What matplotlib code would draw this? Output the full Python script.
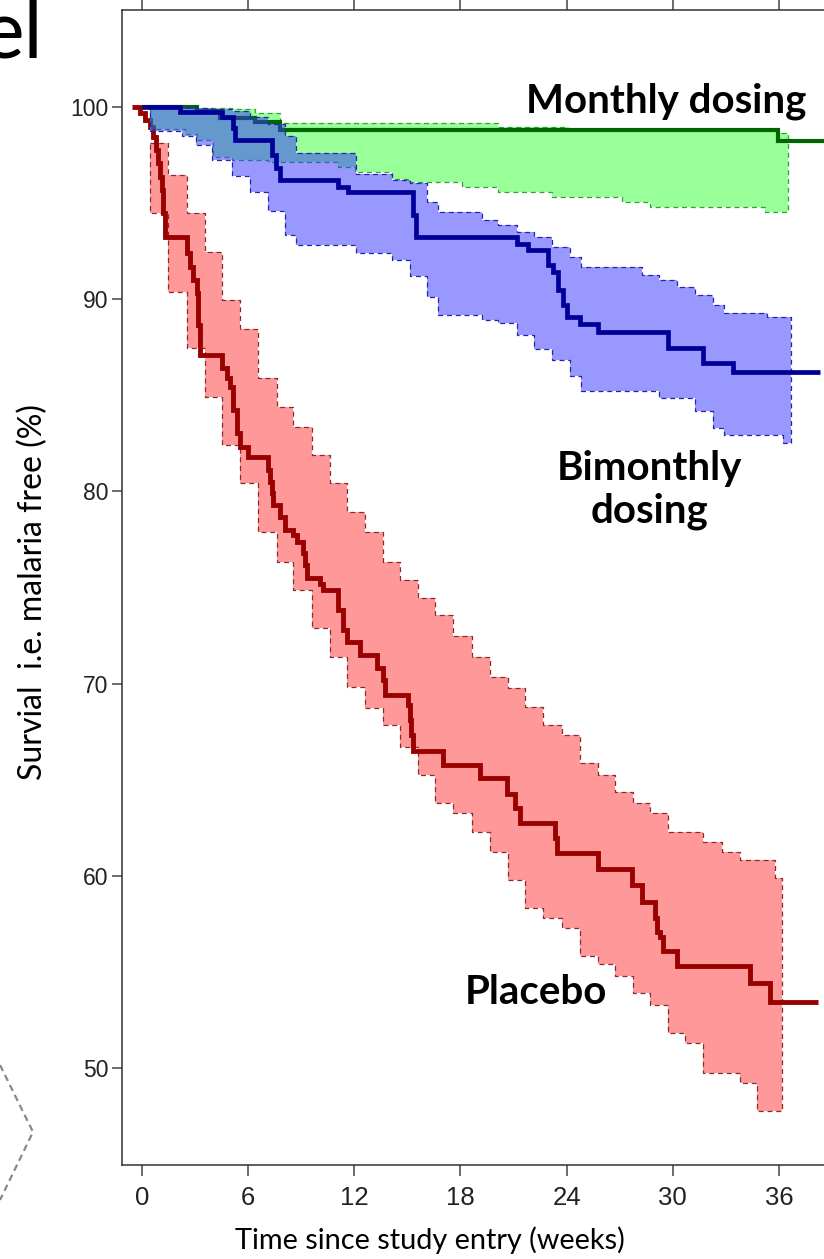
import matplotlib
matplotlib.use('Agg')
import matplotlib.pyplot as plt
from matplotlib import font_manager
from matplotlib.lines import Line2D

# ---------------- data ----------------
xticks = [0, 6, 12, 18, 24, 30, 36]
yticks = [50, 60, 70, 80, 90, 100]

# Placebo Kaplan-Meier curve
placebo_t = [-0.57, -0.11, 0.17, 0.45, 0.64, 0.79, 0.92, 1.02, 1.11, 1.20, 1.30, 2.53, 2.71, 2.90,
             3.09, 3.19, 3.28, 4.51, 4.79, 4.97, 5.16, 5.35, 5.54, 6.01, 7.14, 7.24, 7.33, 7.42,
             7.80, 8.08, 8.55, 8.75, 9.12, 9.21, 9.31, 10.06, 10.25, 11.10, 11.38, 11.57, 12.32,
             13.27, 13.62, 13.74, 15.05, 15.15, 15.23, 15.32, 17.03, 19.11, 20.62, 21.09, 21.37,
             23.35, 23.44, 25.79, 27.68, 28.25, 29.00, 29.11, 29.28, 29.45, 30.23, 34.37, 35.50]
placebo_s = [100.0, 99.67, 99.32, 98.98, 98.45, 97.76, 97.07, 96.36, 95.68, 94.47, 93.25, 92.39,
             91.69, 91.00, 90.31, 88.67, 87.10, 86.43, 85.88, 85.45, 84.24, 83.02, 82.33, 81.81,
             81.11, 80.49, 79.90, 79.29, 78.68, 77.99, 77.73, 77.38, 76.78, 76.17, 75.48, 75.18,
             74.87, 73.83, 72.79, 72.18, 71.49, 70.80, 70.19, 69.41, 68.89, 68.11, 67.33, 66.49,
             65.76, 65.07, 64.26, 63.51, 62.73, 61.95, 61.17, 60.34, 59.52, 58.65, 57.80, 57.08,
             56.82, 56.09, 55.31, 54.41, 53.45]
placebo_end = 38.23
placebo_ci_t = [0.45, 1.49, 2.53, 3.56, 4.51, 5.54, 6.57, 7.61, 8.55, 9.59, 10.63, 11.57, 12.61,
                13.64, 14.58, 15.62, 16.56, 17.60, 18.64, 19.67, 20.71, 21.65, 22.69, 23.73, 24.76,
                25.79, 26.74, 27.77, 28.71, 29.75, 30.69, 31.73, 32.77, 33.80, 34.75, 35.78]
placebo_ci_hi = [98.11, 96.46, 94.47, 92.47, 89.96, 88.45, 85.88, 84.41, 83.37, 81.89, 80.42,
                 78.94, 77.90, 76.34, 75.39, 74.45, 73.57, 72.48, 71.40, 70.36, 69.76, 68.80,
                 67.85, 67.33, 65.85, 65.24, 64.38, 63.77, 63.25, 62.29, 62.29, 61.77, 61.25,
                 60.82, 60.82, 59.87]
placebo_ci_lo = [94.47, 90.39, 87.45, 84.93, 82.41, 80.42, 77.90, 76.34, 74.87, 72.88, 71.40,
                 69.84, 68.71, 67.85, 66.72, 65.24, 63.77, 63.25, 62.29, 61.25, 59.78, 58.30,
                 57.78, 57.26, 55.84, 55.41, 54.80, 53.89, 53.28, 51.81, 51.29, 49.72, 49.72,
                 49.20, 47.76, 47.76]
placebo_ci_end = 36.16

# Bimonthly dosing
bimonthly_t = [0, 2.15, 4.52, 5.14, 5.26, 7.35, 7.57, 7.80, 11.08, 11.65, 15.32, 15.49, 21.20,
               21.82, 22.95, 23.23, 23.52, 23.80, 24.03, 24.76, 25.78, 29.73, 31.71, 33.41]
bimonthly_s = [100, 99.76, 99.50, 98.91, 98.28, 97.50, 96.83, 96.20, 95.85, 95.59, 94.38, 93.22,
               92.87, 92.56, 91.78, 91.42, 90.48, 89.70, 89.09, 88.71, 88.31, 87.44, 86.66, 86.23]
bimonthly_end = 38.33
bimonthly_ci_t = [0, 0.45, 2.26, 3.05, 3.96, 5.09, 6.10, 7.12, 8.08, 8.71, 12.10, 14.13, 15.15,
                  16.11, 16.73, 19.22, 20.12, 21.20, 22.16, 23.18, 24.19, 24.82, 28.26, 29.23,
                  30.24, 31.26, 32.28, 32.90, 35.33, 36.24]
bimonthly_ci_hi = [100, 100, 100, 99.95, 99.9, 99.8, 99.5, 99.1, 98.5, 97.6, 96.5, 96.20, 96.05,
                   95.07, 94.55, 94.12, 93.86, 93.51, 93.22, 92.73, 92.21, 91.69, 91.26, 91.00,
                   90.65, 90.22, 89.70, 89.27, 89.09, 89.09]
bimonthly_ci_lo = [100, 98.73, 98.47, 98.04, 97.26, 96.41, 95.59, 94.57, 93.34, 92.82, 92.43,
                   92.04, 91.21, 90.13, 89.18, 88.92, 88.75, 88.14, 87.40, 86.84, 85.98, 85.25,
                   85.25, 84.86, 84.86, 84.16, 83.30, 82.95, 82.95, 82.52]
bimonthly_ci_end = 36.69

# Monthly dosing
monthly_t = [0, 3.11, 4.41, 6.39, 7.80, 35.95]
monthly_s = [100, 99.8, 99.45, 99.22, 98.80, 98.25]
monthly_end = 39.5
monthly_ci_t = [0, 0.45, 2.43, 3.11, 4.01, 5.09, 6.39, 7.12, 7.80, 11.08, 12.04, 14.13, 15.04,
                18.09, 20.12, 23.18, 24.08, 27.13, 28.72, 35.22, 35.95]
monthly_ci_hi = [100, 100, 100, 99.95, 99.95, 99.9, 99.7, 99.7, 99.18, 99.18, 99.18, 99.18,
                 99.18, 99.18, 98.97, 98.97, 98.85, 98.85, 98.85, 98.85, 98.63]
monthly_ci_lo = [100, 98.85, 98.6, 98.3, 97.39, 97.22, 97.22, 97.14, 97.14, 96.88, 96.62, 96.28,
                 96.10, 95.84, 95.59, 95.33, 95.33, 95.07, 94.81, 94.55, 94.55]
monthly_ci_end = 36.52

# ---------------- fonts ----------------
names = {f.name for f in font_manager.fontManager.ttflist}
narrow = 'Liberation Sans Narrow' if 'Liberation Sans Narrow' in names else 'Liberation Sans'
plt.rcParams['font.family'] = ['Liberation Sans', 'DejaVu Sans']
CAL = ['Lato', 'DejaVu Sans']

W, H = 824, 1259
fig = plt.figure(figsize=(W / 100, H / 100), dpi=100)
XMIN, XMAX = -1.13, 39.6
pxw = 637.0 / 36.0
ax = fig.add_axes([122 / W, (H - 1165) / H, (XMAX - XMIN) * pxw / W, 1155 / H])
ax.set_xlim(XMIN, XMAX)
ax.set_ylim(44.95, 105.05)


def step_xy(t, v, t_end):
    xs, ys = [], []
    for i in range(len(t)):
        t1 = t[i + 1] if i + 1 < len(t) else t_end
        xs += [t[i], t1]
        ys += [v[i], v[i]]
    return xs, ys


def band(t, hi, lo, t_end, face, edge, z):
    ux, uy = step_xy(t, hi, t_end)
    lx, ly = step_xy(t, lo, t_end)
    px = ux + lx[::-1]
    py = uy + ly[::-1]
    ax.fill(px, py, facecolor=face, edgecolor='none', zorder=z)
    ax.plot(px + [px[0]], py + [py[0]], color=edge, lw=0.9, ls=(0, (4, 3)), zorder=z + 0.1)


def curve(t, s, t_end, color, lw, z):
    x, y = step_xy(t, s, t_end)
    ax.plot(x, y, color=color, lw=lw, solid_joinstyle='miter', solid_capstyle='butt', zorder=z)


band(placebo_ci_t, placebo_ci_hi, placebo_ci_lo, placebo_ci_end, (1, 0, 0, 0.4), '#8b2a2a', 1)
curve(placebo_t, placebo_s, placebo_end, '#990000', 3.5, 2)
band(monthly_ci_t, monthly_ci_hi, monthly_ci_lo, monthly_ci_end, (0, 1, 0, 0.4), '#2fa52f', 3)
curve(monthly_t, monthly_s, monthly_end, '#006600', 3.0, 4)
band(bimonthly_ci_t, bimonthly_ci_hi, bimonthly_ci_lo, bimonthly_ci_end, (0.2, 0.2, 1, 0.5), '#2424b0', 5)
curve(bimonthly_t, bimonthly_s, bimonthly_end, '#000099', 3.4, 6)

# axes styling
ax.spines['right'].set_visible(False)
for sp in ['left', 'bottom', 'top']:
    ax.spines[sp].set_color('#333333')
    ax.spines[sp].set_linewidth(1.1)
ax.set_xticks(xticks)
ax.set_yticks(yticks)
ax.set_yticklabels([str(v) for v in yticks], fontsize=16.5, color='#222222')
ax.set_xticklabels([str(v) for v in xticks], fontsize=18.5, color='#222222', family=narrow)
ax.tick_params(axis='y', direction='out', length=7, width=1.1, color='#444444', pad=3)
ax.tick_params(axis='x', direction='out', length=8, width=1.1, color='#444444', pad=7,
               top=True, labeltop=False)

# annotations
ax.text(29.6, 100.3, 'Monthly dosing', ha='center', va='center', fontsize=29,
        fontweight='bold', family=CAL)
ax.text(28.7, 80.07, 'Bimonthly\ndosing', ha='center', va='center', fontsize=29,
        fontweight='bold', family=CAL, linespacing=1.2)
ax.text(22.27, 53.9, 'Placebo', ha='center', va='center', fontsize=29,
        fontweight='bold', family=CAL)

fig.text(33 / W, 1 - 592 / H, 'Survial  i.e. malaria free (%)', rotation=90, ha='center',
         va='center', fontsize=23, family=CAL)
fig.text(430 / W, 1 - 1240 / H, 'Time since study entry (weeks)', ha='center', va='center',
         fontsize=20.8, family=CAL)

# slide fragments outside the chart
fig.text(43 / W, 1 - 57 / H, 'el', ha='right', va='baseline', fontsize=58, family=CAL)
fig.add_artist(Line2D([0 / W, 33 / W, 0 / W], [1 - 1065 / H, 1 - 1132 / H, 1 - 1200 / H],
                      transform=fig.transFigure, color='#888888', lw=1.6, ls=(0, (3, 2))))

fig.savefig('out.png', dpi=100)
